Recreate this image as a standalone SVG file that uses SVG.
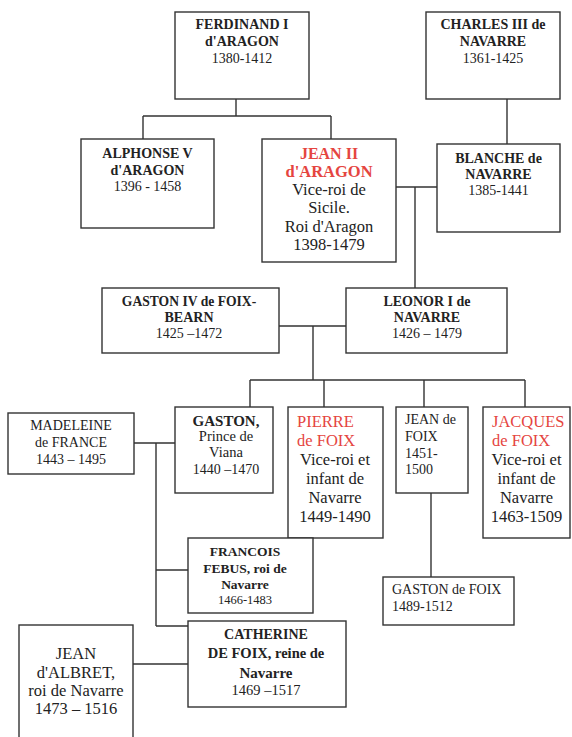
<svg xmlns="http://www.w3.org/2000/svg" width="572" height="737" viewBox="0 0 572 737">
<style>
rect{fill:#fff;stroke:#333;stroke-width:1.4}
text{font-family:"Liberation Serif","Times New Roman",serif;fill:#222;text-anchor:middle;font-size:14px}
.b{font-weight:bold}
.r{fill:#e5453f}
.l{text-anchor:start}
.c path{fill:none;stroke:#333;stroke-width:1.4}
</style>
<rect x="0" y="0" width="572" height="737" style="fill:#fff;stroke:none"/>
<g class="c" id="connectors">
<path d="M236,99V116M143,116H331M143,116V139M331,116V139"/>
<path d="M507,99V144"/>
<path d="M396,187H437M415,187V288"/>
<path d="M279,326H346M313,326V380M250,380H525M250,380V407M324,380V407M424,380V407M525,380V407"/>
<path d="M134,443H175M156,443V626M156,570H188M156,626H188"/>
<path d="M431,493V577"/>
<path d="M133,664H188"/>
</g>
<g id="ferdinand">
<rect x="175" y="12" width="134" height="87"/>
<text x="242" y="29" class="b">FERDINAND I</text>
<text x="242" y="46" class="b">d'ARAGON</text>
<text x="242" y="63">1380-1412</text>
</g>
<g id="charles">
<rect x="426" y="12" width="134" height="87"/>
<text x="493" y="29" class="b">CHARLES III de</text>
<text x="493" y="46" class="b">NAVARRE</text>
<text x="493" y="63">1361-1425</text>
</g>
<g id="alphonse">
<rect x="81" y="139" width="133" height="89"/>
<text x="147.5" y="158" class="b">ALPHONSE V</text>
<text x="147.5" y="175" class="b">d'ARAGON</text>
<text x="147.5" y="191">1396 - 1458</text>
</g>
<g id="jean2">
<rect x="262" y="139" width="134" height="123"/>
<text x="329" y="158.5" class="b r" style="font-size:16px">JEAN II</text>
<text x="329" y="177" class="b r" style="font-size:16.5px">d'ARAGON</text>
<text x="329" y="195" style="font-size:16.5px">Vice-roi de</text>
<text x="329" y="213" style="font-size:16.5px">Sicile.</text>
<text x="329" y="232" style="font-size:16.5px">Roi d'Aragon</text>
<text x="329" y="250" style="font-size:16.5px">1398-1479</text>
</g>
<g id="blanche">
<rect x="437" y="144" width="123" height="88"/>
<text x="498.5" y="163" class="b">BLANCHE de</text>
<text x="498.5" y="179" class="b">NAVARRE</text>
<text x="498.5" y="195">1385-1441</text>
</g>
<g id="gaston4">
<rect x="102" y="288" width="177" height="65"/>
<text x="189" y="306" class="b" style="font-size:13.6px">GASTON IV de FOIX-</text>
<text x="189" y="322" class="b">BEARN</text>
<text x="189" y="338">1425 –1472</text>
</g>
<g id="leonor">
<rect x="346" y="288" width="161" height="65"/>
<text x="427" y="306" class="b">LEONOR I de</text>
<text x="427" y="322" class="b">NAVARRE</text>
<text x="427" y="338">1426 – 1479</text>
</g>
<g id="madeleine">
<rect x="8" y="413" width="126" height="61"/>
<text x="71" y="430">MADELEINE</text>
<text x="71" y="447">de FRANCE</text>
<text x="71" y="464">1443 – 1495</text>
</g>
<g id="gaston-viana">
<rect x="175" y="407" width="98" height="86"/>
<text x="226" y="426" class="b" style="font-size:15px">GASTON,</text>
<text x="226" y="441" style="font-size:14.5px">Prince de</text>
<text x="226" y="457" style="font-size:14.5px">Viana</text>
<text x="226" y="474">1440 –1470</text>
</g>
<g id="pierre">
<rect x="288" y="407" width="95" height="131"/>
<text x="297" y="427" class="r l" style="font-size:16.5px">PIERRE</text>
<text x="297" y="446" class="r l" style="font-size:16.5px">de FOIX</text>
<text x="335" y="465" style="font-size:16.5px">Vice-roi et</text>
<text x="335" y="484" style="font-size:16.5px">infant de</text>
<text x="335" y="503" style="font-size:16.5px">Navarre</text>
<text x="335" y="522" style="font-size:16.5px">1449-1490</text>
</g>
<g id="jean-foix">
<rect x="396" y="407" width="72" height="86"/>
<text x="405" y="424" class="l">JEAN de</text>
<text x="405" y="441" class="l">FOIX</text>
<text x="405" y="458" class="l">1451-</text>
<text x="405" y="474" class="l">1500</text>
</g>
<g id="jacques">
<rect x="483" y="407" width="87" height="131"/>
<text x="492" y="427" class="r l" style="font-size:16.5px">JACQUES</text>
<text x="492" y="446" class="r l" style="font-size:16.5px">de FOIX</text>
<text x="526.5" y="465" style="font-size:16.5px">Vice-roi et</text>
<text x="526.5" y="484" style="font-size:16.5px">infant de</text>
<text x="526.5" y="503" style="font-size:16.5px">Navarre</text>
<text x="526.5" y="522" style="font-size:16.5px">1463-1509</text>
</g>
<g id="francois">
<rect x="188" y="538" width="125" height="75"/>
<text x="245" y="556" class="b" style="font-size:13.5px">FRANCOIS</text>
<text x="245" y="573" class="b" style="font-size:13.5px">FEBUS, roi de</text>
<text x="245" y="589" class="b" style="font-size:13.5px">Navarre</text>
<text x="245" y="604" style="font-size:12.5px">1466-1483</text>
</g>
<g id="gaston-foix">
<rect x="383" y="577" width="131" height="48"/>
<text x="392" y="594" class="l">GASTON de FOIX</text>
<text x="392" y="611" class="l">1489-1512</text>
</g>
<g id="catherine">
<rect x="188" y="621" width="158" height="86"/>
<text x="266" y="639" class="b">CATHERINE</text>
<text x="266" y="658" class="b" style="font-size:14.5px">DE FOIX, reine de</text>
<text x="266" y="678" class="b" style="font-size:15px">Navarre</text>
<text x="266" y="695" style="font-size:14.5px">1469 –1517</text>
</g>
<g id="jean-albret">
<rect x="19" y="625" width="114" height="120"/>
<text x="76" y="659" style="font-size:16.5px">JEAN</text>
<text x="76" y="678" style="font-size:16.5px">d'ALBRET,</text>
<text x="76" y="696" style="font-size:16.5px">roi de Navarre</text>
<text x="76" y="714" style="font-size:16.5px">1473 – 1516</text>
</g>
</svg>
